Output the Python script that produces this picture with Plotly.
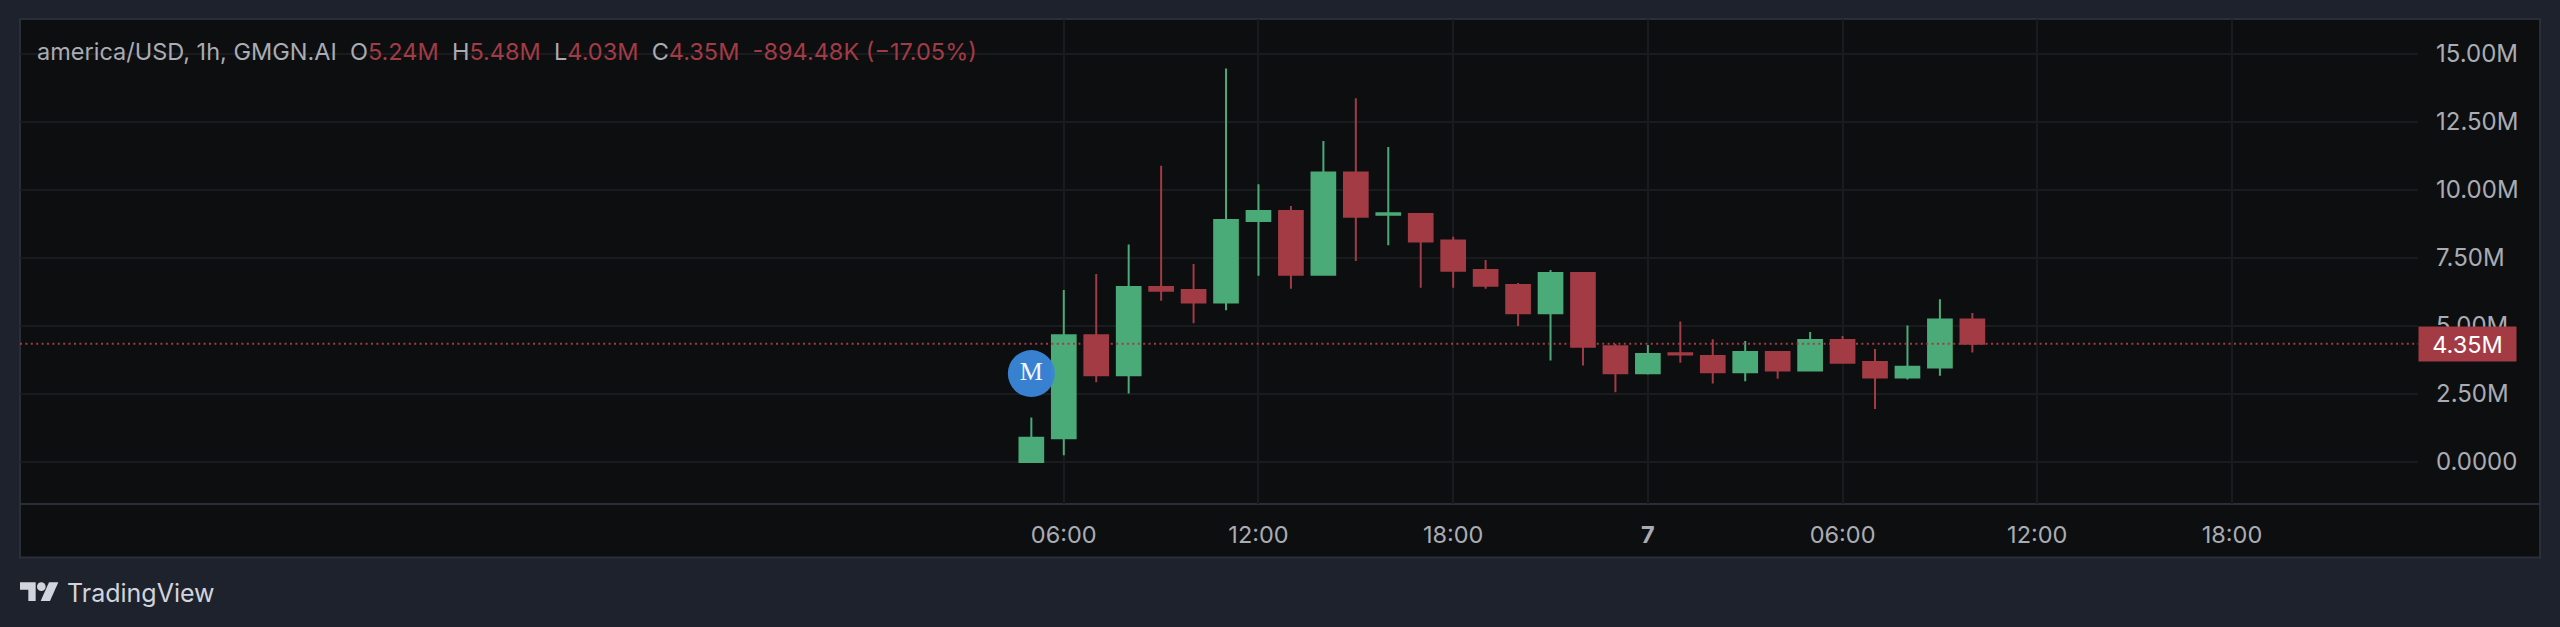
import plotly.graph_objects as go

# ---- data (values in millions) ----
times = [f"2025-01-06 {h:02d}:00" for h in (5,6,7,8,9,10,11,12,13,14,15,16,17,18,19,20,21,22,23)] + \
        [f"2025-01-07 {h:02d}:00" for h in (0,1,2,3,4,5,6,7,8,9,10)]
opens  = [0.00,0.87,4.66,3.19,6.43,6.32,5.86,8.86,9.23,6.88,10.64,9.09,9.12,8.14,7.06,6.51,5.47,6.95,4.26,3.26,4.00,3.90,3.30,4.04,3.36,4.49,3.68,3.11,3.47,5.24]
highs  = [1.64,6.32,6.91,8.00,10.89,7.28,14.47,10.21,9.41,11.80,13.37,11.58,9.15,8.28,7.43,6.58,7.06,6.99,4.35,4.30,5.17,4.51,4.45,4.08,4.78,4.63,4.15,5.02,5.98,5.48]
lows   = [0.00,0.25,2.93,2.52,5.93,5.10,5.58,6.85,6.37,6.88,7.39,7.97,6.41,6.41,6.37,5.00,3.73,3.55,2.56,3.22,3.65,2.89,2.97,3.06,3.36,3.65,1.95,3.03,3.17,4.03]
closes = [0.89,4.66,3.19,6.43,6.30,5.86,8.90,9.23,6.88,10.64,9.02,9.15,8.11,7.03,6.48,5.47,6.95,4.24,3.26,3.97,3.95,3.30,4.04,3.36,4.49,3.65,3.11,3.50,5.24,4.35]
y_ticks = [0, 2.5, 5, 7.5, 10, 12.5, 15]
y_labels = ["0.0000", "2.50M", "5.00M", "7.50M", "10.00M", "12.50M", "15.00M"]
x_ticks = ["2025-01-06 06:00", "2025-01-06 12:00", "2025-01-06 18:00", "2025-01-07 00:00",
           "2025-01-07 06:00", "2025-01-07 12:00", "2025-01-07 18:00"]
x_labels = ["06:00", "12:00", "18:00", "<b>7</b>", "06:00", "12:00", "18:00"]
last_label = "4.35M"
marker_time = ["2025-01-06 05:00"]
marker_value = [3.25]
marker_text = ["M"]

# ---- style ----
W, H = 2560, 627
L, R, T, B = 20, 2418, 19, 504
PAGE = "#1e222d"; PANEL = "#0d0e10"; BORDER = "#2a2e39"; GRID = "#1a1b1f"
UP = "#4bab78"; DOWN = "#a33b45"; TXT = "#a9acb3"; LOGO = "#d1d4dc"
FONT = "Inter, sans-serif"

def px(x): return (x - L) / (R - L)
def py(y): return (B - y) / (B - T)

fig = go.Figure()
fig.add_trace(go.Candlestick(
    x=times, open=opens, high=highs, low=lows, close=closes,
    increasing=dict(line=dict(color=UP, width=2), fillcolor=UP),
    decreasing=dict(line=dict(color=DOWN, width=2), fillcolor=DOWN),
    whiskerwidth=0, showlegend=False,
))
fig.add_trace(go.Scatter(
    x=marker_time, y=marker_value, mode="markers+text", text=marker_text,
    textposition="middle center",
    textfont=dict(family="Liberation Serif, serif", size=26, color="#f2f5fa"),
    marker=dict(size=47, color="rgba(58,133,216,0.97)", line=dict(width=0)),
    showlegend=False,
))

def rect(x0, y0, x1, y1, fill, line=None):
    return dict(type="rect", xref="paper", yref="paper", x0=px(x0), x1=px(x1), y0=py(y0), y1=py(y1),
                fillcolor=fill, line=dict(color=line or fill, width=2 if line else 0), layer="below")

def poly(pts):
    return "M" + " L".join(f"{px(a/3)} {py(490+b/3)}" for a, b in pts) + " Z"

shapes = [
    rect(20, 19, 2540, 557.5, PANEL, BORDER),
    dict(type="line", xref="paper", yref="paper", x0=0, x1=px(2540), y0=0, y1=0,
         line=dict(color=BORDER, width=2), layer="below"),
    dict(type="line", xref="paper", yref="y", x0=0, x1=1, y0=closes[-1], y1=closes[-1],
         line=dict(color=DOWN, width=2, dash="2px 3.4px"), layer="above"),
    # TradingView logo
    dict(type="path", xref="paper", yref="paper", layer="above", fillcolor=LOGO, line=dict(width=0),
         path=poly([(60,277),(107,277),(107,333),(85,333),(85,299),(60,299)])),
    dict(type="path", xref="paper", yref="paper", layer="above", fillcolor=LOGO, line=dict(width=0),
         path=poly([(147,277),(175,277),(150,333),(122,333)])),
    dict(type="circle", xref="paper", yref="paper", layer="above", fillcolor=LOGO, line=dict(width=0),
         x0=px(111/3), x1=px(137/3), y0=py(490+303/3), y1=py(490+277/3)),
]

grey = lambda s: f'<span style="color:{TXT}">{s}</span>'
red = lambda s: f'<span style="color:{DOWN}">{s}</span>'
header = (grey("america/USD, 1h, GMGN.AI&nbsp;&nbsp;O") + red("5.24M") + grey("&nbsp;&nbsp;H") + red("5.48M")
          + grey("&nbsp;&nbsp;L") + red("4.03M") + grey("&nbsp;&nbsp;C") + red("4.35M")
          + red("&nbsp;&nbsp;-894.48K (−17.05%)"))

annotations = [
    dict(text=header, xref="paper", yref="paper", x=px(35), y=py(52), xanchor="left", yanchor="middle",
         showarrow=False, font=dict(family=FONT, size=23.5, color=TXT)),
    dict(text=last_label, xref="paper", yref="y", x=1, y=closes[-1], xanchor="left", yanchor="middle",
         showarrow=False, width=97, height=34, align="center", bgcolor=DOWN, borderpad=0,
         font=dict(family=FONT, size=23.5, color="#ffffff")),
    dict(text="TradingView", xref="paper", yref="paper", x=px(65), y=py(593), xanchor="left", yanchor="middle",
         showarrow=False, font=dict(family=FONT, size=25, color=LOGO)),
]

fig.update_layout(
    width=W, height=H, autosize=False,
    margin=dict(l=L, r=W - R, t=T, b=H - B, pad=0),
    paper_bgcolor=PAGE, plot_bgcolor="rgba(0,0,0,0)",
    font=dict(family=FONT, size=24, color=TXT),
    boxgap=0.27, boxgroupgap=0, showlegend=False, shapes=shapes, annotations=annotations,
    xaxis=dict(type="date", range=["2025-01-04 21:50", "2025-01-07 23:44"], rangeslider=dict(visible=False),
               tickmode="array", tickvals=x_ticks, ticktext=x_labels, showgrid=True, gridcolor=GRID, gridwidth=2,
               zeroline=False, showline=False, ticks="", ticklabelstandoff=14, tickfont=dict(size=23.5)),
    yaxis=dict(side="right", range=[-1.544, 16.287], tickmode="array", tickvals=y_ticks, ticktext=y_labels,
               showgrid=True, gridcolor=GRID, gridwidth=2, zeroline=False, showline=False, ticks="",
               ticklabelstandoff=17),
)

fig.write_html("out.html", config=dict(displayModeBar=False),
               post_script=f"document.body.style.margin='0';document.body.style.background='{PAGE}';")
